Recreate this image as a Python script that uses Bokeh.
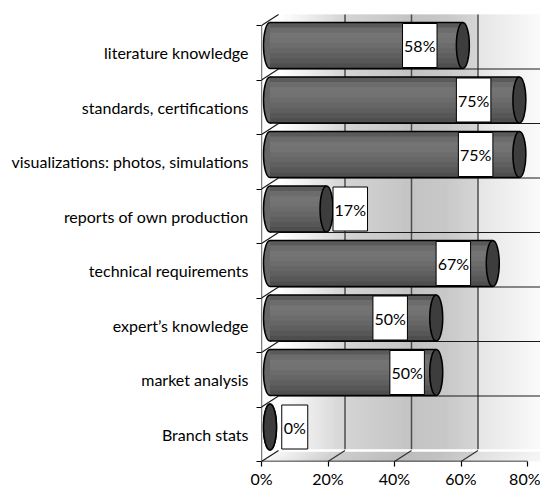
import numpy as np
from bokeh.plotting import figure
from bokeh.models import Range1d, FixedTicker, PrintfTickFormatter, ColumnDataSource
from bokeh.embed import file_html
from bokeh.resources import INLINE
from bokeh.core.properties import value

# ---------------- data ----------------
categories = [
    "literature knowledge",
    "standards, certifications",
    "visualizations: photos, simulations",
    "reports of own production",
    "technical requirements",
    "expert\u2019s knowledge",
    "market analysis",
    "Branch stats",
]
shares = [58, 75, 75, 17, 67, 50, 50, 0]
x_ticks = [0, 20, 40, 60, 80]

# ---------------- layout / style ----------------
label_shift = [-10.4, -11.2, -10.6, 9.7, -9.3, -11.3, -6.2, 10.0]  # label box offset (in %)
FONT = "Lato"
PX = 3.325           # pixels per percent
PY = 54.5            # pixels per category
DX = 17 / PX         # 3-D depth offset (x, in %)
DY = 11 / PY         # 3-D depth offset (y, in categories)
W, H = 540, 494
ML, MT, MB = 261, 12, 33

n = len(categories)
centers = [n - i for i in range(n)]
bounds = [k + 0.5 for k in range(n + 1)]
x_end = (W - ML) / PX
y_end = 0.5 + (H - MT - MB) / PY

p = figure(width=W, height=H, output_backend="svg", toolbar_location=None,
           x_range=Range1d(0, x_end), y_range=Range1d(0.5, y_end),
           min_border_left=ML, min_border_right=0, min_border_top=MT, min_border_bottom=MB)
p.outline_line_color = None
p.xgrid.visible = False
p.ygrid.visible = False
p.background_fill_color = "white"
p.border_fill_color = "white"


def grey(g):
    g = int(round(max(0, min(255, g))))
    return "#%02x%02x%02x" % (g, g, g)


# back-wall shading profile (position in % -> grey level)
prof_x = [0, 6, 20, 30, 40, 50, 59.9, 60.05, 80, 90]
prof_g = [255, 244, 212, 204, 196, 200, 213, 229, 252, 255]
step = 0.5
ov = 0.3
lefts = np.arange(0, 86, step)
cols = [grey(np.interp(a + step / 2, prof_x, prof_g)) for a in lefts]

# back wall
p.quad(left=DX + lefts, right=DX + lefts + step + ov, bottom=0.5 + DY, top=bounds[-1] + DY,
       fill_color=cols, line_color=None)

# floor
fxs = [[a, a + step + ov, a + step + ov + DX, a + DX] for a in lefts]
fys = [[0.5, 0.5, 0.5 + DY, 0.5 + DY] for _ in lefts]
fcols = [grey(np.interp(a + step / 2, prof_x, prof_g) - 8) for a in lefts]
p.patches(xs=fxs, ys=fys, fill_color=fcols, line_color=None)
# white side wall
p.patch(x=[0, DX, DX, 0], y=[0.5, 0.5 + DY, bounds[-1] + DY, bounds[-1]], fill_color="white", line_color=None)

# back wall grid lines (vertical)
gx = [t + DX for t in x_ticks[1:]]
p.segment(x0=gx, y0=[0.5 + DY] * len(gx), x1=gx, y1=[bounds[-1] + DY] * len(gx),
          line_color="#4d4d4d", line_width=1.5)
# back wall horizontal lines at category boundaries
hb = bounds[1:-1]
p.segment(x0=[DX] * len(hb), y0=[b + DY for b in hb], x1=[x_end + 1] * len(hb), y1=[b + DY for b in hb],
          line_color="#1a1a1a", line_width=1.2)
# white edge between wall and floor
p.segment(x0=[DX], y0=[0.5 + DY], x1=[x_end + 1], y1=[0.5 + DY], line_color="white", line_width=2.5)
# floor slashes
fx = x_ticks[1:-1]
p.segment(x0=fx, y0=[0.5] * len(fx), x1=[t + DX for t in fx], y1=[0.5 + DY] * len(fx),
          line_color="#333333", line_width=1.2)
# side wall slashes
p.segment(x0=[0] * len(bounds), y0=bounds, x1=[DX] * len(bounds), y1=[b + DY for b in bounds],
          line_color="#1a1a1a", line_width=1.2)
# axis lines
p.segment(x0=[0, 0], y0=[0.5, 0.5], x1=[0, 80], y1=[bounds[-1], 0.5], line_color="black", line_width=1.3)

# ---------------- cylinders ----------------
bh = 46 / PY
ew = 13 / PX
yc = [c + DY / 2 + 0.032 for c in centers]
x0 = [DX / 2] * n
x1 = [v + DX / 2 for v in shares]

p.ellipse(x=x0, y=yc, width=ew, height=bh, fill_color="#666666", line_color="black", line_width=1.5)

strip_cols = ["#5a5a5a", "#6c6c6c", "#747474", "#727272", "#6c6c6c", "#666666", "#5f5f5f", "#575757", "#4e4e4e"]
ns = len(strip_cols)
ql, qr, qb, qt, qc = [], [], [], [], []
for i in range(n):
    if shares[i] <= 0:
        continue
    for j in range(ns):
        ql.append(x0[i]); qr.append(x1[i])
        qt.append(yc[i] + bh / 2 - j * bh / ns)
        qb.append(yc[i] + bh / 2 - (j + 1) * bh / ns - (0.02 if j < ns - 1 else 0))
        qc.append(strip_cols[j])
p.quad(left=ql, right=qr, bottom=qb, top=qt, fill_color=qc, line_color=None)
vis = [i for i in range(n) if shares[i] > 0]
p.segment(x0=[x0[i] for i in vis] * 2, x1=[x1[i] for i in vis] * 2,
          y0=[yc[i] + bh / 2 for i in vis] + [yc[i] - bh / 2 for i in vis],
          y1=[yc[i] + bh / 2 for i in vis] + [yc[i] - bh / 2 for i in vis],
          line_color="black", line_width=1.6)
p.ellipse(x=x1, y=yc, width=ew, height=bh, fill_color="#3d3d3d", line_color="black", line_width=1.5)

# ---------------- data labels ----------------
lab = ColumnDataSource(dict(
    x=[v + s for v, s in zip(shares, label_shift)],
    y=yc,
    t=["%d%%" % v for v in shares],
    w=[9 + 8.5 * len("%d%%" % v) for v in shares],
))
p.rect(x="x", y="y", width="w", height=44, width_units="screen", height_units="screen",
       fill_color="white", line_color="black", line_width=1, source=lab)
p.text(x="x", y="y", text="t", text_align="center", text_baseline="middle",
       text_font=value(FONT), text_font_size="16px", text_color="black", source=lab)

# ---------------- axes ----------------
xa = p.xaxis[0]
xa.ticker = FixedTicker(ticks=x_ticks)
xa.formatter = PrintfTickFormatter(format="%d%%")
xa.axis_line_color = None
xa.major_tick_out = 5
xa.major_tick_in = 0
xa.minor_tick_out = 0
xa.major_tick_line_color = "black"
xa.major_tick_line_width = 1.2
xa.major_label_standoff = 2
xa.major_label_text_font = FONT
xa.major_label_text_font_size = "16px"
xa.major_label_text_color = "black"

ya = p.yaxis[0]
ya.ticker = FixedTicker(ticks=centers, minor_ticks=bounds)
ya.major_label_overrides = {c: name for c, name in zip(centers, categories)}
ya.axis_line_color = None
ya.major_tick_out = 0
ya.major_tick_in = 0
ya.major_tick_line_color = None
ya.minor_tick_out = 5
ya.minor_tick_in = 0
ya.minor_tick_line_color = "black"
ya.major_label_standoff = 8
ya.major_label_text_font = FONT
ya.major_label_text_font_size = "16px"
ya.major_label_text_color = "black"

open("out.html", "w").write(file_html(p, INLINE))
